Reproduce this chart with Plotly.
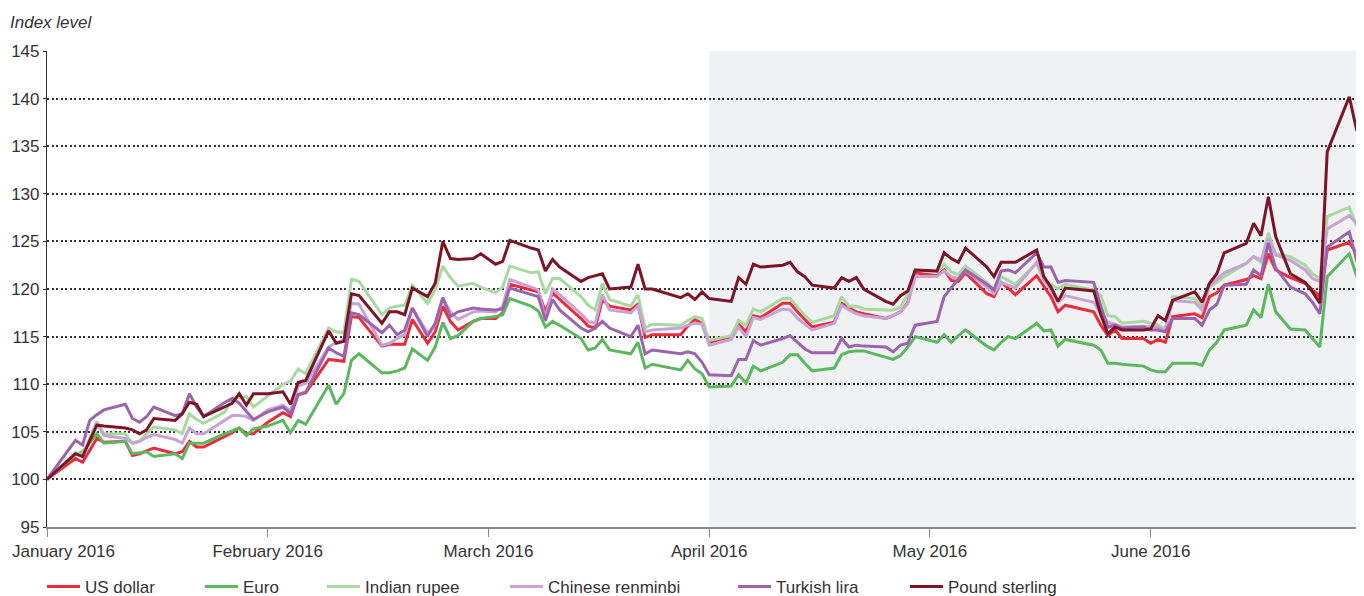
import pandas as pd
import plotly.graph_objects as go

# ─────────────────────────────────────────────────────────────
# DATA (index level, 1 January 2016 = 100)
# ─────────────────────────────────────────────────────────────
dates = [
    "2016-01-01", "2016-01-05", "2016-01-06", "2016-01-07", "2016-01-08", "2016-01-09",
    "2016-01-12", "2016-01-13", "2016-01-14", "2016-01-15", "2016-01-16", "2016-01-19",
    "2016-01-20", "2016-01-21", "2016-01-22", "2016-01-23", "2016-01-26", "2016-01-27",
    "2016-01-28", "2016-01-29", "2016-01-30",
    "2016-02-01", "2016-02-03", "2016-02-04", "2016-02-05", "2016-02-06", "2016-02-09",
    "2016-02-10", "2016-02-11", "2016-02-12", "2016-02-13", "2016-02-16", "2016-02-17",
    "2016-02-18", "2016-02-19", "2016-02-20", "2016-02-22", "2016-02-23", "2016-02-24",
    "2016-02-25", "2016-02-26", "2016-02-28", "2016-02-29",
    "2016-03-02", "2016-03-03", "2016-03-04", "2016-03-07", "2016-03-08", "2016-03-09",
    "2016-03-10", "2016-03-11", "2016-03-14", "2016-03-15", "2016-03-16", "2016-03-17",
    "2016-03-18", "2016-03-21", "2016-03-22", "2016-03-23", "2016-03-24", "2016-03-28",
    "2016-03-29", "2016-03-30", "2016-03-31",
    "2016-04-01", "2016-04-04", "2016-04-05", "2016-04-06", "2016-04-07", "2016-04-08",
    "2016-04-11", "2016-04-12", "2016-04-13", "2016-04-14", "2016-04-15", "2016-04-18",
    "2016-04-19", "2016-04-20", "2016-04-21", "2016-04-22", "2016-04-25", "2016-04-26",
    "2016-04-27", "2016-04-28", "2016-04-29",
    "2016-05-02", "2016-05-03", "2016-05-04", "2016-05-05", "2016-05-06", "2016-05-09",
    "2016-05-10", "2016-05-11", "2016-05-12", "2016-05-13", "2016-05-16", "2016-05-17",
    "2016-05-18", "2016-05-19", "2016-05-20", "2016-05-24", "2016-05-25", "2016-05-26",
    "2016-05-27", "2016-05-28", "2016-05-31",
    "2016-06-01", "2016-06-02", "2016-06-03", "2016-06-04", "2016-06-07", "2016-06-08",
    "2016-06-09", "2016-06-10", "2016-06-11", "2016-06-14", "2016-06-15", "2016-06-16",
    "2016-06-17", "2016-06-18", "2016-06-20", "2016-06-22", "2016-06-23", "2016-06-24",
    "2016-06-25", "2016-06-28", "2016-06-29", "2016-06-30",
]

us_dollar = [
    100, 102.2, 101.8, 103.1, 104.3, 103.9, 104.0, 102.5, 102.7, 103.0, 103.3, 102.7, 102.9, 104.0, 103.4, 103.4, 104.5, 104.9, 105.4, 104.8, 104.8,
    106.0, 107.0, 106.6, 108.9, 109.1, 112.6, 112.5, 112.4, 117.1, 117.0, 114.0, 114.2, 114.2, 114.2, 116.8, 114.3, 115.5, 118.2, 116.6, 115.7, 116.6, 116.9,
    116.9, 117.5, 120.5, 119.9, 119.7, 117.6, 119.6, 118.9, 116.9, 116.1, 115.9, 118.9, 118.2, 117.8, 118.4, 114.9, 115.2, 115.2, 116.1, 116.8, 116.4,
    114.4, 115.0, 116.3, 115.5, 117.2, 117.0, 118.5, 118.5, 117.6, 116.8, 116.0, 116.5, 118.5, 118.0, 117.6, 117.4, 116.9, 117.2, 117.6, 118.6, 121.7,
    121.4, 122.0, 120.9, 120.8, 121.7, 119.5, 119.2, 120.7, 120.1, 119.4, 121.4, 120.3, 119.2, 117.6, 118.3, 117.6, 116.2, 115.1, 115.7, 114.8, 114.8,
    114.3, 114.7, 114.4, 117.1, 117.4, 117.0, 119.2, 119.6, 120.4, 121.0, 121.4, 121.1, 123.7, 122.0, 121.2, 120.6, 119.9, 119.2, 124.1, 124.9, 123.7, 124.7,
]

euro = [
    100, 102.6, 102.9, 103.8, 104.8, 103.8, 104.0, 102.7, 102.8, 102.9, 102.4, 102.7, 102.2, 103.8, 103.8, 103.8, 104.8, 105.1, 105.4, 104.6, 105.3,
    105.6, 106.2, 104.9, 106.2, 105.8, 109.9, 107.9, 109.0, 112.5, 113.2, 111.2, 111.2, 111.4, 111.7, 113.7, 112.5, 113.9, 116.5, 114.8, 115.1, 116.6, 116.9,
    117.1, 117.3, 119.0, 118.2, 117.7, 116.0, 116.6, 116.2, 114.8, 113.6, 113.8, 114.7, 113.6, 113.2, 114.4, 111.7, 112.1, 111.5, 112.5, 111.6, 111.1,
    109.7, 109.8, 111.0, 110.1, 111.9, 111.4, 112.3, 113.1, 113.1, 112.2, 111.4, 111.7, 113.1, 113.4, 113.5, 113.5, 112.8, 112.6, 113.0, 113.9, 115.0,
    114.4, 115.2, 114.4, 115.1, 115.7, 114.0, 113.6, 114.4, 115.0, 114.8, 116.4, 115.6, 115.7, 114.0, 114.7, 114.1, 113.6, 112.2, 112.2, 112.1, 111.9,
    111.5, 111.3, 111.3, 112.2, 112.2, 112.0, 113.6, 114.4, 115.7, 116.2, 117.8, 117.0, 120.5, 117.6, 115.8, 115.7, 114.8, 113.9, 121.3, 123.7, 121.4, 122.0,
]

indian_rupee = [
    100, 102.8, 102.6, 104.3, 106.1, 104.8, 104.8, 103.8, 104.0, 104.8, 105.5, 105.2, 104.8, 106.9, 106.3, 105.9, 107.1, 108.5, 108.6, 108.7, 107.6,
    108.8, 110.0, 110.3, 111.6, 111.1, 115.9, 115.5, 115.4, 121.0, 120.8, 117.3, 118.0, 118.2, 118.3, 120.4, 118.5, 119.9, 122.4, 121.2, 120.3, 120.6, 120.2,
    119.6, 120.2, 122.4, 121.7, 121.8, 119.5, 121.1, 121.1, 119.2, 118.3, 117.8, 120.6, 118.9, 118.2, 119.4, 115.9, 116.3, 116.2, 116.7, 117.1, 116.9,
    114.6, 115.1, 116.7, 116.2, 117.9, 117.6, 119.0, 119.0, 118.1, 117.2, 116.5, 117.2, 119.2, 118.2, 118.2, 117.9, 117.8, 117.8, 118.1, 119.5, 122.0,
    121.8, 122.6, 121.8, 121.5, 122.4, 120.7, 119.9, 121.3, 120.9, 120.5, 122.7, 120.9, 120.5, 120.0, 120.5, 119.9, 119.3, 117.2, 117.1, 116.4, 116.6,
    116.4, 116.2, 115.8, 119.2, 119.0, 118.1, 120.2, 120.7, 121.3, 122.7, 123.4, 122.8, 125.9, 123.7, 123.4, 122.5, 121.6, 121.1, 127.6, 128.6, 126.6, 127.6,
]

chinese_renminbi = [
    100, 102.7, 102.4, 104.2, 105.9, 104.6, 104.3, 103.8, 104.0, 104.4, 104.7, 104.2, 103.8, 105.4, 104.8, 104.8, 106.2, 106.7, 106.7, 106.6, 106.2,
    107.3, 107.8, 107.2, 109.8, 110.1, 113.9, 114.4, 114.6, 118.5, 118.4, 114.1, 114.3, 114.8, 115.2, 118.0, 115.4, 116.2, 119.0, 117.6, 116.8, 117.6, 117.7,
    117.6, 118.2, 121.0, 120.2, 119.9, 116.9, 120.0, 119.4, 117.4, 116.6, 116.4, 119.4, 117.8, 117.5, 118.2, 115.5, 115.7, 115.9, 116.2, 116.4, 116.3,
    114.1, 114.7, 116.0, 115.0, 117.0, 116.8, 117.9, 117.8, 116.9, 116.3, 115.7, 116.4, 118.3, 117.8, 117.4, 117.2, 116.9, 117.2, 117.6, 118.5, 121.3,
    121.3, 121.9, 121.3, 121.1, 121.9, 120.2, 119.5, 120.7, 120.4, 120.1, 122.8, 121.0, 119.9, 118.6, 119.3, 118.6, 117.4, 116.5, 116.3, 116.0, 116.1,
    116.0, 116.0, 115.6, 118.8, 118.6, 117.8, 120.4, 121.0, 121.7, 122.7, 123.4, 123.0, 125.3, 123.6, 123.0, 122.0, 121.1, 120.8, 126.3, 127.7, 126.9, 127.6,
]

turkish_lira = [
    100, 104.1, 103.6, 106.2, 106.8, 107.3, 107.9, 106.4, 106.0, 106.6, 107.6, 106.7, 106.9, 109.0, 107.6, 106.6, 108.1, 108.5, 108.0, 107.1, 106.3,
    107.1, 107.6, 106.9, 108.9, 109.2, 113.8, 113.3, 112.9, 117.5, 117.3, 115.4, 116.2, 115.2, 115.7, 118.0, 115.0, 116.4, 119.1, 117.1, 117.6, 118.0, 117.9,
    117.8, 117.9, 120.1, 119.4, 119.2, 116.7, 118.9, 117.8, 115.9, 115.5, 115.9, 116.6, 115.9, 115.0, 116.2, 113.2, 113.6, 113.2, 113.4, 113.2, 112.3,
    111.0, 110.9, 112.6, 112.6, 114.6, 114.1, 114.8, 115.1, 114.4, 113.7, 113.3, 113.3, 114.8, 113.9, 114.1, 114.0, 113.9, 113.4, 114.1, 114.3, 116.2,
    116.6, 119.2, 120.1, 121.1, 122.0, 120.5, 119.9, 121.9, 122.0, 121.7, 123.8, 122.3, 122.3, 120.7, 120.9, 120.7, 118.2, 116.0, 116.2, 115.9, 116.0,
    115.7, 115.7, 115.5, 116.9, 116.9, 116.2, 117.8, 118.4, 120.4, 120.5, 122.0, 121.4, 124.8, 122.2, 120.2, 119.5, 118.6, 117.4, 124.4, 126.0, 123.0, 123.5,
]

pound_sterling = [
    100, 102.7, 102.4, 104.1, 105.7, 105.6, 105.4, 105.2, 104.8, 105.2, 106.4, 106.2, 106.9, 108.1, 107.9, 106.6, 107.6, 108.0, 109.0, 107.8, 109.0,
    109.0, 109.2, 107.9, 110.2, 110.4, 115.6, 114.3, 114.5, 119.5, 119.3, 116.4, 117.6, 117.6, 117.3, 120.1, 119.2, 120.6, 125.0, 123.2, 123.1, 123.2, 123.7,
    122.6, 122.9, 125.1, 124.3, 124.1, 121.9, 123.1, 122.3, 120.8, 121.2, 121.4, 121.6, 120.0, 120.2, 122.6, 120.0, 120.0, 119.1, 119.5, 118.9, 119.7,
    119.0, 118.7, 121.2, 120.5, 122.6, 122.3, 122.5, 122.8, 121.8, 121.3, 120.4, 120.1, 121.2, 120.8, 121.2, 120.0, 118.7, 118.4, 119.3, 119.8, 122.0,
    121.9, 123.8, 123.2, 122.8, 124.3, 122.3, 121.3, 122.8, 122.8, 122.8, 124.1, 121.3, 120.2, 118.7, 120.1, 119.8, 117.3, 115.3, 116.0, 115.7, 115.7,
    115.8, 117.2, 116.7, 118.8, 119.7, 118.6, 120.6, 121.6, 123.8, 124.8, 126.9, 125.6, 129.7, 125.5, 121.6, 120.7, 119.7, 118.5, 134.4, 140.2, 136.7, 135.8,
]

month_labels = ["January 2016", "February 2016", "March 2016", "April 2016", "May 2016", "June 2016"]

# ─────────────────────────────────────────────────────────────
# X POSITION: the source spaces every month equally wide
# ─────────────────────────────────────────────────────────────
d = pd.to_datetime(pd.Series(dates))
xpos = (d.dt.month - 1) + (d.dt.day - 1) / d.dt.days_in_month
x_end = xpos.iloc[-1]

series = [
    ("US dollar", us_dollar, "#ec2a3a", 110),
    ("Euro", euro, "#5cb85f", 74),
    ("Indian rupee", indian_rupee, "#a9d9a2", 135),
    ("Chinese renminbi", chinese_renminbi, "#c8a3d4", 180),
    ("Turkish lira", turkish_lira, "#9c63ae", 124),
    ("Pound sterling", pound_sterling, "#7b1528", 125),
]

FONT = "Liberation Sans, Arial, sans-serif"
TXT = "#333333"

# page body keeps an 8px margin, so the figure is sized to the visible area
W, H = 1356, 588

fig = go.Figure()

for name, vals, color, lw in series:
    fig.add_trace(go.Scatter(
        x=xpos,
        y=vals,
        mode="lines",
        name=name,
        line=dict(color=color, width=3),
        legendwidth=lw,
    ))

# shaded second quarter
fig.add_shape(
    type="rect", xref="x", yref="paper",
    x0=3, x1=x_end, y0=0, y1=1,
    fillcolor="#f0f1f3", line=dict(width=0), layer="below",
)

# first month label sits right of its tick so it stays inside the page
fig.add_annotation(
    text=month_labels[0],
    xref="paper", x=0, xanchor="left", xshift=-37,
    yref="paper", y=0, yanchor="middle", yshift=-24,
    showarrow=False,
    font=dict(family=FONT, size=17, color=TXT),
)

fig.update_layout(
    width=W,
    height=H,
    margin=dict(l=39, r=0, t=43, b=69),
    paper_bgcolor="white",
    plot_bgcolor="white",
    font=dict(family=FONT, size=17, color=TXT),
    title=dict(
        text="Index level",
        x=2 / W, xanchor="left", xref="container",
        y=1 - 14 / H, yanchor="middle", yref="container",
        font=dict(family=FONT, size=17, color=TXT, style="italic"),
    ),
    xaxis=dict(
        range=[0, x_end],
        tickmode="array",
        tickvals=list(range(len(month_labels))),
        ticktext=[""] + month_labels[1:],
        ticks="outside",
        ticklen=8,
        tickwidth=1,
        tickcolor="#8a8a8a",
        showline=True,
        linecolor="#8a8a8a",
        linewidth=1.5,
        showgrid=False,
        zeroline=False,
        automargin=False,
        tickfont=dict(size=17, color=TXT),
    ),
    yaxis=dict(
        range=[95, 145],
        dtick=5,
        ticks="outside",
        ticklen=3,
        tickcolor="#333333",
        showline=True,
        linecolor="#333333",
        linewidth=1.2,
        showgrid=True,
        gridcolor="#333333",
        gridwidth=1.5,
        griddash="2px,2.5px",
        zeroline=False,
        automargin=False,
        tickfont=dict(size=17, color=TXT),
    ),
    legend=dict(
        orientation="h",
        xref="container", x=34 / W, xanchor="left",
        yref="container", y=0.046, yanchor="top",
        font=dict(size=17, color=TXT),
        bgcolor="rgba(0,0,0,0)",
        itemwidth=33,
        tracegroupgap=0,
    ),
    showlegend=True,
)

fig.write_html("out.html")
